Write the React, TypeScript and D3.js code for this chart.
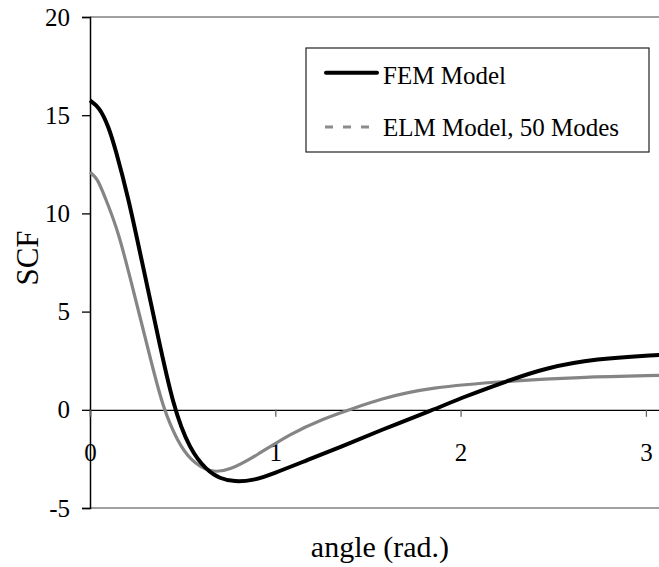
import React, { useRef, useEffect } from 'react';
import * as d3 from 'd3';

// FEM curve
const femAngle = [0, 0.05, 0.1, 0.135, 0.207, 0.279, 0.36, 0.449, 0.54, 0.63, 0.7, 0.78, 0.88, 0.99, 1.17, 1.35, 1.565, 1.853, 2.015, 2.25, 2.46, 2.73, 3.06, 3.1416];
const femSCF = [15.75, 15.42, 14.43, 13.36, 10.8, 7.6, 4.05, 0.14, -2.06, -3.08, -3.5, -3.67, -3.6, -3.25, -2.57, -1.9, -1.05, 0, 0.65, 1.46, 2.14, 2.6, 2.8, 2.82];

// ELM curve, 50 modes
const elmAngle = [0, 0.04, 0.081, 0.153, 0.243, 0.333, 0.396, 0.47, 0.54, 0.65, 0.755, 0.9, 1.08, 1.26, 1.4, 1.565, 1.835, 2.25, 2.64, 3.06, 3.1416];
const elmSCF = [12.1, 11.79, 10.82, 9.12, 5.73, 2.34, 0.05, -1.56, -2.57, -3.22, -3.08, -2.32, -1.22, -0.45, 0, 0.56, 1.15, 1.46, 1.66, 1.75, 1.76];

const yTicks = [-5, 0, 5, 10, 15, 20];
const xTicks = [0, 1, 2, 3];
const seriesNames = ['FEM Model', 'ELM Model, 50 Modes'];

function App() {
  const svgRef = useRef<SVGSVGElement>(null);

  useEffect(() => {
    const svg = d3.select(svgRef.current);
    svg.selectAll('*').remove();

    const font = '"Liberation Serif", "Times New Roman", serif';
    const x = d3.scaleLinear().domain([0, Math.PI]).range([90, 90 + Math.PI * 185.3]);
    const y = d3.scaleLinear().domain([-5, 20]).range([508, 17]);

    // plot area top / bottom borders
    svg.append('line').attr('x1', 90).attr('x2', 659).attr('y1', y(20)).attr('y2', y(20))
      .attr('stroke', '#808080').attr('stroke-width', 1.5);
    svg.append('line').attr('x1', 90).attr('x2', 659).attr('y1', y(-5)).attr('y2', y(-5))
      .attr('stroke', '#808080').attr('stroke-width', 1.5);

    // y axis
    const yAxis = svg.append('g')
      .attr('transform', 'translate(90,0)')
      .call(d3.axisLeft(y).tickValues(yTicks).tickSize(8).tickPadding(12).tickFormat(d => String(d)))
      .attr('font-family', font).attr('font-size', 25);
    yAxis.select('.domain').attr('stroke', '#000').attr('stroke-width', 1.5);
    yAxis.selectAll('.tick line').attr('stroke', '#000').attr('stroke-width', 1.3);
    yAxis.selectAll('.tick text').style('font-family', font).attr('fill', '#000').attr('dy', '0.32em');

    // x axis on y = 0
    const xAxis = svg.append('g')
      .attr('transform', `translate(0,${y(0)})`)
      .call(d3.axisBottom(x).tickValues(xTicks).tickSize(7).tickPadding(26).tickFormat(d => String(d)))
      .attr('font-family', font).attr('font-size', 25);
    xAxis.select('.domain').attr('stroke', '#000').attr('stroke-width', 1.3);
    xAxis.selectAll('.tick line').attr('stroke', '#666').attr('stroke-width', 1.3);
    xAxis.selectAll('.tick text').style('font-family', font).attr('fill', '#000');

    const line = d3.line<[number, number]>()
      .x(d => x(d[0]))
      .y(d => y(d[1]))
      .curve(d3.curveBasis);

    const g = svg.append('g');
    g.append('path')
      .datum(elmAngle.map((a, i) => [a, elmSCF[i]] as [number, number]))
      .attr('fill', 'none').attr('stroke', '#858585').attr('stroke-width', 3.2)
      .attr('d', line);
    g.append('path')
      .datum(femAngle.map((a, i) => [a, femSCF[i]] as [number, number]))
      .attr('fill', 'none').attr('stroke', '#000').attr('stroke-width', 4)
      .attr('d', line);

    // axis titles
    svg.append('text').attr('x', 380).attr('y', 557).attr('text-anchor', 'middle').attr('fill', '#000')
      .attr('font-family', font).attr('font-size', 30).text('angle (rad.)');
    svg.append('text').attr('transform', 'translate(38,258) rotate(-90)').attr('text-anchor', 'middle')
      .attr('fill', '#000').attr('font-family', font).attr('font-size', 31).text('SCF');

    // legend
    const lg = svg.append('g');
    lg.append('rect').attr('x', 306).attr('y', 48).attr('width', 343).attr('height', 104)
      .attr('fill', '#fff').attr('stroke', '#222').attr('stroke-width', 1.2);
    lg.append('line').attr('x1', 326).attr('x2', 377).attr('y1', 72.7).attr('y2', 72.7)
      .attr('stroke', '#000').attr('stroke-width', 4).attr('stroke-linecap', 'round');
    lg.append('line').attr('x1', 325).attr('x2', 371).attr('y1', 127).attr('y2', 127)
      .attr('stroke', '#8c8c8c').attr('stroke-width', 3).attr('stroke-dasharray', '8,10');
    lg.append('text').attr('x', 383).attr('y', 84).attr('font-family', font).attr('font-size', 25).text(seriesNames[0]);
    lg.append('text').attr('x', 383).attr('y', 136).attr('font-family', font).attr('font-size', 25).text(seriesNames[1]);
  }, []);

  return (
    <svg ref={svgRef} width={659} height={567}
      style={{ position: 'absolute', left: 0, top: 0, background: '#fff' }} />
  );
}

export default App;
